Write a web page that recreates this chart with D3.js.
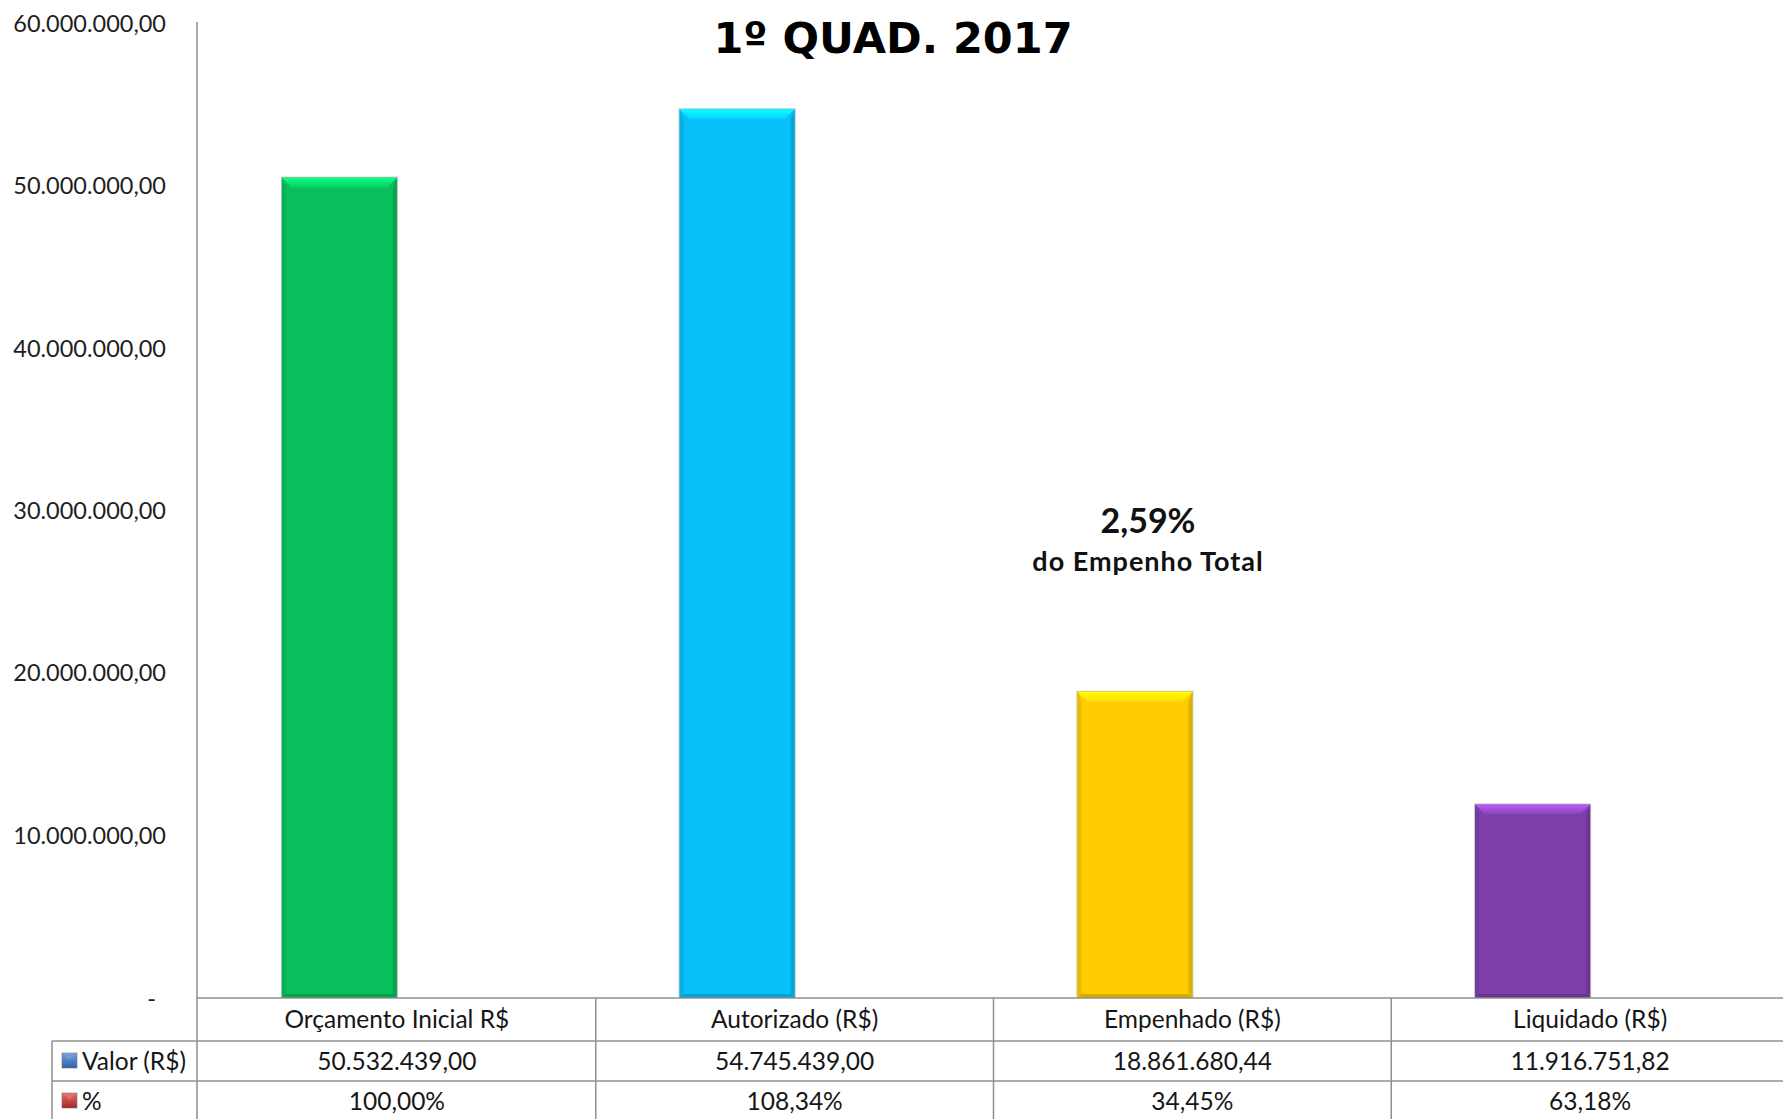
<!DOCTYPE html>
<html>
<head>
<meta charset="utf-8">
<script src="https://cdn.jsdelivr.net/npm/d3@7"></script>
<style>
  body { margin: 0; background: #fff; }
  svg { display: block; }
</style>
</head>
<body>
<div id="chart"></div>
<script>
var categorias = ["Orçamento Inicial R$", "Autorizado (R$)", "Empenhado (R$)", "Liquidado (R$)"];
var valores = [50532439.00, 54745439.00, 18861680.44, 11916751.82];
var percentuais = [1.0000, 1.0834, 0.3445, 0.6318];
var series = ["Valor (R$)", "%"];
var cores = ["#07bf5b", "#08c0f8", "#ffcc00", "#7e3ea9"];
var yTicks = [0, 10000000, 20000000, 30000000, 40000000, 50000000, 60000000];
var titulo = "1º QUAD. 2017";
var nota = ["2,59%", "do Empenho Total"];

var W = 1783, H = 1119;
var plotLeft = 198, plotRight = 1789, plotTop = 24, base = 998;
var rowH = [43, 40, 40];

var br = d3.formatLocale({ decimal: ",", thousands: ".", grouping: [3], currency: ["R$", ""] });
var fmtNum = br.format(",.2f");
var fmtPct = br.format(".2%");

var svg = d3.select("#chart").append("svg").attr("width", W).attr("height", H);
var defs = svg.append("defs");

var x0 = d3.scaleBand().domain(categorias).range([plotLeft, plotRight]);
var x1 = d3.scaleBand().domain(series).range([x0.bandwidth() * 0.211, x0.bandwidth() * 0.789]);
var y = d3.scaleLinear().domain([0, 60000000]).range([base, plotTop]);

var font = "Lato, 'Open Sans', sans-serif";

// eixo y
var yAxis = d3.axisLeft(y).tickValues(yTicks).tickSize(0).tickPadding(32)
    .tickFormat(function(d) { return d === 0 ? "-" : fmtNum(d); });
var gy = svg.append("g").attr("transform", "translate(" + plotLeft + ",0)").call(yAxis);
gy.select(".domain").remove();
gy.selectAll("text").style("font-family", font).style("font-size", "23.5px").attr("fill", "#1e1e1e");
gy.selectAll(".tick").filter(function(d) { return d === 0; }).select("text").attr("dx", -10).attr("dy", "0.35em");

svg.append("line").attr("x1", plotLeft - 1).attr("x2", plotLeft - 1).attr("y1", 22).attr("y2", H)
    .attr("stroke", "#8c8c8c").attr("stroke-width", 1.5);

// gradientes das barras
cores.forEach(function(c, i) {
    var g = defs.append("linearGradient").attr("id", "top" + i).attr("x1", 0).attr("y1", 0).attr("x2", 0).attr("y2", 1);
    g.append("stop").attr("offset", "0%").attr("stop-color", d3.color(c).brighter(1.1));
    g.append("stop").attr("offset", "100%").attr("stop-color", d3.color(c).brighter(0.2));
});

var bars = svg.append("g").selectAll("g.bar")
    .data(categorias.map(function(c, i) { return { cat: c, v: valores[i], p: percentuais[i], i: i }; }))
    .join("g").attr("class", "bar");

bars.each(function(d) {
    var g = d3.select(this);
    var bx = x0(d.cat) + x1("Valor (R$)");
    var bw = x1.bandwidth();
    var by = y(d.v);
    var bh = base - by;
    var c = cores[d.i];
    var b = 10, s = 4;
    g.append("rect").attr("x", bx - 1).attr("y", by - 1).attr("width", bw + 2).attr("height", bh + 1)
        .attr("fill", "#9a9a9a").attr("opacity", 0.6);
    g.append("rect").attr("x", bx).attr("y", by).attr("width", bw).attr("height", bh).attr("fill", c);
    // bisel lateral
    g.append("path").attr("d", "M" + bx + "," + by + "L" + (bx + s) + "," + (by + b) + "L" + (bx + s) + "," + (base - s) + "L" + bx + "," + base + "Z")
        .attr("fill", d3.color(c).darker(0.25));
    g.append("path").attr("d", "M" + (bx + bw) + "," + by + "L" + (bx + bw - s) + "," + (by + b) + "L" + (bx + bw - s) + "," + (base - s) + "L" + (bx + bw) + "," + base + "Z")
        .attr("fill", d3.color(c).darker(0.4));
    g.append("path").attr("d", "M" + bx + "," + base + "L" + (bx + s) + "," + (base - s) + "L" + (bx + bw - s) + "," + (base - s) + "L" + (bx + bw) + "," + base + "Z")
        .attr("fill", d3.color(c).darker(0.5));
    // bisel superior
    g.append("path").attr("d", "M" + bx + "," + by + "L" + (bx + bw) + "," + by + "L" + (bx + bw - b) + "," + (by + b) + "L" + (bx + b) + "," + (by + b) + "Z")
        .attr("fill", "url(#top" + d.i + ")");
    // série % (valores em fração, quase invisível na escala)
    g.append("rect").attr("x", x0(d.cat) + x1("%")).attr("y", y(d.p)).attr("width", x1.bandwidth())
        .attr("height", base - y(d.p)).attr("fill", "#c0504d");
});

// tabela de dados
var lineColor = "#8f8f8f";
var tbl = svg.append("g");
var rowTop = [base, base + rowH[0], base + rowH[0] + rowH[1], base + rowH[0] + rowH[1] + rowH[2]];
tbl.append("line").attr("x1", plotLeft - 1).attr("x2", W).attr("y1", rowTop[0]).attr("y2", rowTop[0]);
tbl.append("line").attr("x1", 52).attr("x2", W).attr("y1", rowTop[1]).attr("y2", rowTop[1]);
tbl.append("line").attr("x1", 52).attr("x2", W).attr("y1", rowTop[2]).attr("y2", rowTop[2]);
tbl.append("line").attr("x1", 52).attr("x2", 52).attr("y1", rowTop[1]).attr("y2", H);
categorias.forEach(function(c, i) {
    if (i > 0) tbl.append("line").attr("x1", x0(c)).attr("x2", x0(c)).attr("y1", base).attr("y2", H);
});
tbl.selectAll("line").attr("stroke", lineColor).attr("stroke-width", 1.5);

var cx = function(c) { return x0(c) + x0.bandwidth() / 2; };
var txt = function(sel) {
    return sel.attr("text-anchor", "middle").style("font-family", font).style("font-size", "24.5px").attr("fill", "#161616");
};
tbl.selectAll("text.cat").data(categorias).join("text").attr("class", "cat")
    .attr("x", cx).attr("y", rowTop[0] + 30).text(function(d) { return d; }).call(txt);
tbl.selectAll("text.val").data(valores).join("text").attr("class", "val")
    .attr("x", function(d, i) { return cx(categorias[i]); }).attr("y", rowTop[1] + 29)
    .text(function(d) { return fmtNum(d); }).call(txt);
tbl.selectAll("text.pct").data(percentuais).join("text").attr("class", "pct")
    .attr("x", function(d, i) { return cx(categorias[i]); }).attr("y", rowTop[2] + 29)
    .text(function(d) { return fmtPct(d); }).call(txt);

// legenda nas linhas
var legCores = [["#6fa0dc", "#2f62a8"], ["#e07070", "#a82424"]];
series.forEach(function(s, i) {
    var gy0 = rowTop[i + 1] + 12;
    var lg = defs.append("linearGradient").attr("id", "leg" + i).attr("x1", 0).attr("y1", 0).attr("x2", 0).attr("y2", 1);
    lg.append("stop").attr("offset", "0%").attr("stop-color", legCores[i][0]);
    lg.append("stop").attr("offset", "100%").attr("stop-color", legCores[i][1]);
    tbl.append("rect").attr("x", 62).attr("y", gy0).attr("width", 15).attr("height", 15)
        .attr("fill", "url(#leg" + i + ")").attr("stroke", "#777").attr("stroke-width", 0.6);
    tbl.append("path").attr("d", "M62," + gy0 + "L77," + gy0 + "L69.5," + (gy0 + 7) + "Z")
        .attr("fill", legCores[i][0]).attr("opacity", 0.9);
    tbl.append("text").attr("x", 82).attr("y", rowTop[i + 1] + 29).text(s)
        .style("font-family", font).style("font-size", "24.5px").attr("fill", "#161616");
});

// título
svg.append("text").attr("x", 893).attr("y", 53).attr("text-anchor", "middle")
    .style("font-family", "'DejaVu Sans', Verdana, sans-serif").style("font-weight", "bold").style("font-size", "43px")
    .attr("fill", "#000").text(titulo);

// anotação
svg.append("text").attr("x", 1148).attr("y", 533).attr("text-anchor", "middle")
    .style("font-family", font).style("font-weight", "bold").style("font-size", "34px").attr("fill", "#111").text(nota[0]);
svg.append("text").attr("x", 1148).attr("y", 571).attr("text-anchor", "middle")
    .style("font-family", font).style("font-weight", "bold").style("font-size", "27px")
    .style("letter-spacing", "1px").attr("fill", "#111").text(nota[1]);
</script>
</body>
</html>
